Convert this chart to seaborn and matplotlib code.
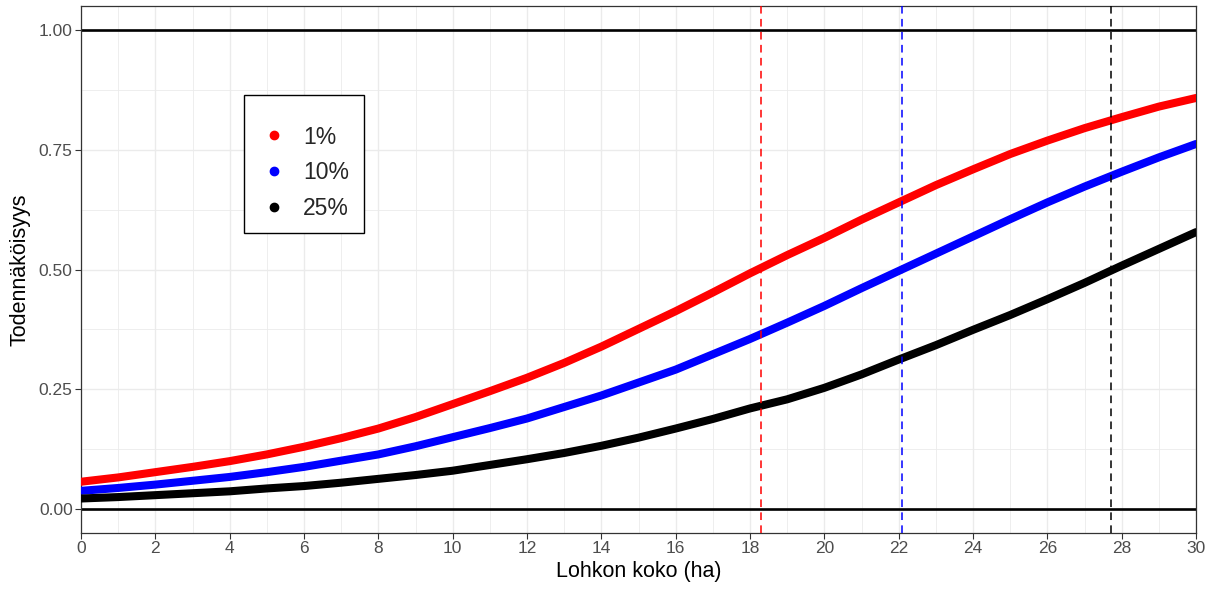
import numpy as np
import pandas as pd
import matplotlib
matplotlib.use("Agg")
import matplotlib.pyplot as plt
from matplotlib.lines import Line2D
from matplotlib.patches import Rectangle
from matplotlib.ticker import MultipleLocator, FormatStrFormatter
import seaborn as sns

# ---- data ----
x_ha = list(range(0, 31))
p_1 = [0.057, 0.066, 0.077, 0.088, 0.100, 0.114, 0.130, 0.148, 0.168, 0.192,
       0.219, 0.246, 0.274, 0.305, 0.339, 0.376, 0.413, 0.452, 0.492, 0.530,
       0.566, 0.604, 0.640, 0.676, 0.709, 0.741, 0.769, 0.795, 0.818, 0.840, 0.858]
p_10 = [0.038, 0.044, 0.051, 0.059, 0.067, 0.077, 0.088, 0.101, 0.114, 0.131,
        0.150, 0.169, 0.189, 0.213, 0.237, 0.264, 0.291, 0.323, 0.355, 0.389,
        0.424, 0.461, 0.497, 0.533, 0.569, 0.605, 0.640, 0.673, 0.704, 0.734, 0.762]
p_25 = [0.022, 0.025, 0.029, 0.033, 0.037, 0.043, 0.048, 0.055, 0.063, 0.071,
        0.080, 0.092, 0.104, 0.117, 0.132, 0.149, 0.168, 0.188, 0.210, 0.229,
        0.253, 0.281, 0.312, 0.342, 0.374, 0.405, 0.438, 0.472, 0.508, 0.543, 0.578]
series_labels = ["1%", "10%", "25%"]
series_colors = ["#FF0000", "#0000FF", "#000000"]
p50_x = [18.3, 22.1, 27.7]        # where each curve reaches 0.5
hlines_y = [0.0, 1.0]
x_ticks = list(range(0, 31, 2))
y_ticks = [0.0, 0.25, 0.5, 0.75, 1.0]

df = pd.DataFrame({
    "x": x_ha * 3,
    "p": p_1 + p_10 + p_25,
    "ryhma": [series_labels[0]] * len(x_ha) + [series_labels[1]] * len(x_ha) + [series_labels[2]] * len(x_ha),
})

sns.set_theme(style="white")
plt.rcParams["font.family"] = ["Liberation Sans", "DejaVu Sans"]

W, H = 1210, 592
fig = plt.figure(figsize=(W / 100, H / 100), dpi=100)
ax_l, ax_r, ax_t, ax_b = 81, 1196, 6, 533
ax = fig.add_axes([ax_l / W, (H - ax_b) / H, (ax_r - ax_l) / W, (ax_b - ax_t) / H])
ax.set_facecolor("white")

palette = dict(zip(series_labels, series_colors))
sns.lineplot(data=df, x="x", y="p", hue="ryhma", palette=palette, ax=ax,
             linewidth=5.8, legend=False, zorder=3, solid_capstyle="round")

for yv in hlines_y:
    ax.axhline(yv, color="black", lw=1.9, zorder=2)
for xv, c in zip(p50_x, series_colors):
    ax.axvline(xv, color=c, lw=1.1, ls=(0, (5, 3.5)), zorder=4)

ax.set_xlim(0, 30)
ax.set_ylim(-0.05, 1.05)
ax.set_xticks(x_ticks)
ax.set_yticks(y_ticks)
ax.xaxis.set_minor_locator(MultipleLocator(1))
ax.yaxis.set_minor_locator(MultipleLocator(0.125))
ax.yaxis.set_major_formatter(FormatStrFormatter("%.2f"))

ax.grid(which="major", color="#EBEBEB", lw=1.0, zorder=0)
ax.grid(which="minor", color="#EBEBEB", lw=0.6, zorder=0)
ax.set_axisbelow(True)

ax.tick_params(axis="both", which="major", length=4, width=0.8, color="#333333",
               labelcolor="#4D4D4D", labelsize=12.5, pad=2, direction="out",
               bottom=True, left=True)
ax.tick_params(axis="both", which="minor", length=0)
for s in ax.spines.values():
    s.set_color("#333333")
    s.set_linewidth(0.9)

ax.set_xlabel("Lohkon koko (ha)", fontsize=15.5, color="black", labelpad=3)
ax.set_ylabel("Todennäköisyys", fontsize=15.5, color="black", labelpad=6)

# legend frame (pixel box 244..364 x 95..233)
pw, ph = ax_r - ax_l, ax_b - ax_t
frame = Rectangle(((244 - ax_l) / pw, (ax_b - 233) / ph), 120 / pw, 138 / ph,
                  transform=ax.transAxes, facecolor="white", edgecolor="black",
                  lw=1.0, zorder=5)
ax.add_patch(frame)

fs = 16.5
hl = 0.62
handles = [Line2D([], [], marker="o", ls="", color=c, markersize=6) for c in series_colors]
leg = ax.legend(handles, series_labels, loc="upper left",
                bbox_to_anchor=((274 - hl * fs * 100 / 72 / 2 - ax_l) / pw, (ax_b - 125.5) / ph),
                borderaxespad=0, frameon=False,
                fontsize=fs, borderpad=0, handlelength=hl, handletextpad=0.96,
                labelspacing=0.55)
leg.set_zorder(6)

fig.savefig("out.png", dpi=100)
